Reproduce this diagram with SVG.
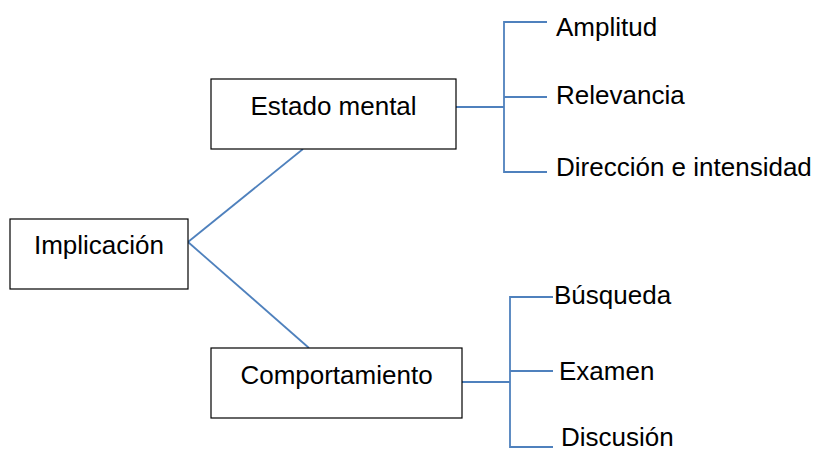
<svg xmlns="http://www.w3.org/2000/svg" width="819" height="452" viewBox="0 0 819 452">
<style>
.box{fill:#fff;stroke:#000;stroke-width:1.2}
.t{font-family:"Liberation Sans",Arial,sans-serif;font-size:26px;fill:#000}
.c{fill:none;stroke:#4F81BD;stroke-width:1.8}
</style>
<rect width="819" height="452" fill="#fff"/>
<g id="connectors">
<line class="c" x1="188" y1="242" x2="303" y2="149"/>
<line class="c" x1="188" y1="242" x2="309" y2="348"/>
<path class="c" d="M456 107H504M547 22H504V172H547M504 97H547"/>
<path class="c" d="M462 382H510M553 297H510V447H553M510 371H553"/>
</g>
<g id="implicacion"><rect class="box" x="10" y="219" width="178" height="70"/><text class="t" x="99" y="254" text-anchor="middle">Implicación</text></g>
<g id="estado"><rect class="box" x="211" y="79" width="245" height="70"/><text class="t" x="333.5" y="115" text-anchor="middle">Estado mental</text></g>
<g id="comportamiento"><rect class="box" x="211" y="348" width="251" height="70"/><text class="t" x="336.5" y="384" text-anchor="middle">Comportamiento</text></g>
<g id="amplitud"><text class="t" x="556" y="36">Amplitud</text></g>
<g id="relevancia"><text class="t" x="556" y="104">Relevancia</text></g>
<g id="direccion"><text class="t" x="556" y="176">Dirección e intensidad</text></g>
<g id="busqueda"><text class="t" x="554" y="304">Búsqueda</text></g>
<g id="examen"><text class="t" x="559" y="380">Examen</text></g>
<g id="discusion"><text class="t" x="561" y="446">Discusión</text></g>
</svg>
